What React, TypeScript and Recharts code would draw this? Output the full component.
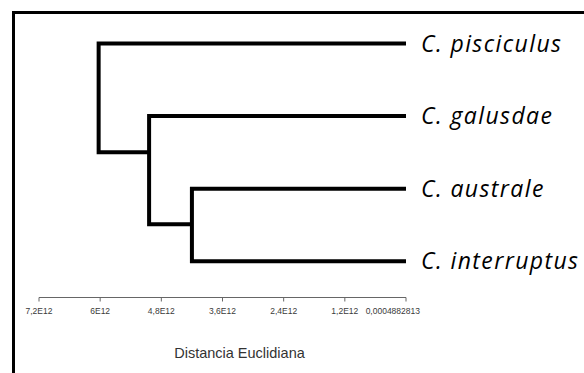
import React from 'react';
import { ComposedChart, Line, XAxis, YAxis } from 'recharts';

// leaves, top to bottom
const leafNames = ['C. pisciculus', 'C. galusdae', 'C. australe', 'C. interruptus'];
const leafPos = [0, 1, 2, 3];

// merge heights (distancia euclidiana)
// australe+interruptus, +galusdae, +pisciculus
const nodeHeights = [4.2e12, 5.04e12, 6.03e12];
// vertical position where each node's stem attaches
const nodePos = [2.49, 1.5, 0.75];

const tickValues = [7.2e12, 6e12, 4.8e12, 3.6e12, 2.4e12, 1.2e12, 0.0004882813];
const tickLabels = ['7,2E12', '6E12', '4,8E12', '3,6E12', '2,4E12', '1,2E12', '0,0004882813'];

const links = [
    [
        { x: 0, y: leafPos[2] },
        { x: nodeHeights[0], y: leafPos[2] },
        { x: nodeHeights[0], y: leafPos[3] },
        { x: 0, y: leafPos[3] },
    ],
    [
        { x: 0, y: leafPos[1] },
        { x: nodeHeights[1], y: leafPos[1] },
        { x: nodeHeights[1], y: nodePos[0] },
        { x: nodeHeights[0], y: nodePos[0] },
    ],
    [
        { x: 0, y: leafPos[0] },
        { x: nodeHeights[2], y: leafPos[0] },
        { x: nodeHeights[2], y: nodePos[1] },
        { x: nodeHeights[1], y: nodePos[1] },
    ],
];

const XTick = (props: any) => {
    const { x, y, payload, index } = props;
    const isLast = index === tickValues.length - 1;
    return (
        <text
            x={isLast ? x + 14 : x}
            y={y + 10}
            textAnchor={isLast ? 'end' : 'middle'}
            fontSize={8.5}
            fontFamily="'Liberation Sans', Arial, sans-serif"
            fill="#3a3a3a"
        >
            {tickLabels[tickValues.indexOf(payload.value)]}
        </text>
    );
};

const LeafTick = (props: any) => {
    const { x, y, payload } = props;
    return (
        <text
            x={x + 15}
            y={y}
            dy="0.35em"
            textAnchor="start"
            fontSize={23}
            letterSpacing={1.4}
            fontStyle="italic"
            fontFamily="'Open Sans', sans-serif"
            fill="#000"
        >
            {leafNames[payload.value]}
        </text>
    );
};

const AxisTitle = (props: any) => {
    const { viewBox } = props;
    return (
        <text
            x={viewBox.x + viewBox.width / 2 + 17}
            y={viewBox.y + 55}
            dy="0.35em"
            textAnchor="middle"
            fontSize={14.5}
            fontFamily="'Liberation Sans', Arial, sans-serif"
            fill="#333"
        >
            Distancia Euclidiana
        </text>
    );
};

export default function App() {
    return (
        <div style={{ position: 'absolute', left: 0, top: 0, width: 584, height: 373, background: '#fff' }}>
            <div
                style={{
                    position: 'absolute',
                    left: 12,
                    top: 11,
                    width: 572,
                    height: 362,
                    borderLeft: '3px solid #000',
                    borderTop: '3px solid #000',
                    boxSizing: 'border-box',
                }}
            />
            <div style={{ position: 'absolute', left: 0, top: 0 }}>
                <ComposedChart width={584} height={373} margin={{ top: 43.5, right: 0, bottom: 0, left: 39 }}>
                    <XAxis
                        dataKey="x"
                        type="number"
                        domain={[0, 7.2e12]}
                        reversed
                        allowDataOverflow
                        ticks={tickValues}
                        interval={0}
                        tickSize={4}
                        tickMargin={2}
                        height={75.5}
                        stroke="#666"
                        tick={<XTick />}
                        label={<AxisTitle />}
                    />
                    <YAxis
                        type="number"
                        orientation="right"
                        domain={[0, 3.5]}
                        reversed
                        ticks={leafPos}
                        interval={0}
                        width={178}
                        axisLine={false}
                        tickLine={false}
                        tickSize={0}
                        tickMargin={0}
                        tick={<LeafTick />}
                    />
                    {links.map((pts, i) => (
                        <Line
                            key={i}
                            data={pts}
                            dataKey="y"
                            type="linear"
                            stroke="#000"
                            strokeWidth={4}
                            strokeLinejoin="miter"
                            dot={false}
                            activeDot={false}
                            isAnimationActive={false}
                        />
                    ))}
                </ComposedChart>
            </div>
        </div>
    );
}
